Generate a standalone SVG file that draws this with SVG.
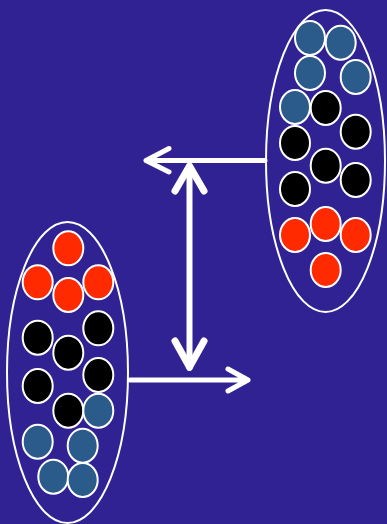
<svg xmlns="http://www.w3.org/2000/svg" width="387" height="524" viewBox="0 0 387 524">
<style>
.pool{fill:none;stroke:#fff;stroke-width:2}
.b{stroke:#fff;stroke-width:2}
.r{fill:#ff2a00}
.t{fill:#2a5b8b}
.k{fill:#000}
.ar{fill:none;stroke:#fff;stroke-linecap:round;stroke-linejoin:round}
</style>
<rect width="387" height="524" fill="#312293"/>
<g id="connectors">
<path class="ar" stroke-width="5" d="M265 160.5 H146 M169 148.5 L146 160.5 L169 172"/>
<path class="ar" stroke-width="6" d="M189.5 166 V368"/>
<path class="ar" stroke-width="7" d="M175 191 L189.5 166 L204 191 M175 341 L189.5 367 L204 341"/>
<path class="ar" stroke-width="5" d="M130 380 H248 M228 369 L248 380 L228 391"/>
</g>
<g id="right-pool">
<ellipse class="pool" cx="325.5" cy="161" rx="59.5" ry="151"/>
<g class="b">
<ellipse class="t" cx="310" cy="38" rx="15" ry="17"/>
<ellipse class="t" cx="340.7" cy="42.7" rx="15" ry="17"/>
<ellipse class="t" cx="310" cy="73" rx="15" ry="17"/>
<ellipse class="t" cx="355.7" cy="77" rx="15" ry="17"/>
<ellipse class="t" cx="295" cy="107" rx="15" ry="17"/>
<ellipse class="k" cx="325.7" cy="108" rx="15" ry="17"/>
<ellipse class="k" cx="355.7" cy="131.7" rx="15" ry="17"/>
<ellipse class="k" cx="295" cy="143" rx="15" ry="17"/>
<ellipse class="k" cx="325.7" cy="165.7" rx="15" ry="17"/>
<ellipse class="k" cx="355.7" cy="180" rx="15" ry="17"/>
<ellipse class="k" cx="295" cy="189" rx="15" ry="17"/>
<ellipse class="r" cx="295" cy="235" rx="15" ry="17"/>
<ellipse class="r" cx="325.7" cy="224" rx="15" ry="17"/>
<ellipse class="r" cx="355.7" cy="235" rx="15" ry="17"/>
<ellipse class="r" cx="325.7" cy="270" rx="15" ry="17"/>
</g>
</g>
<g id="left-pool">
<ellipse class="pool" cx="67.5" cy="372.5" rx="60.5" ry="150.5"/>
<g class="b">
<ellipse class="r" cx="68.3" cy="248.3" rx="15" ry="17"/>
<ellipse class="r" cx="37.7" cy="282.3" rx="15" ry="17"/>
<ellipse class="r" cx="98.3" cy="282.3" rx="15" ry="17"/>
<ellipse class="r" cx="68.3" cy="295" rx="15" ry="17"/>
<ellipse class="k" cx="37.7" cy="337.7" rx="15" ry="17"/>
<ellipse class="k" cx="98.3" cy="328.3" rx="15" ry="17"/>
<ellipse class="k" cx="68.3" cy="352.7" rx="15" ry="17"/>
<ellipse class="k" cx="98.3" cy="375" rx="15" ry="17"/>
<ellipse class="k" cx="37.7" cy="386" rx="15" ry="17"/>
<ellipse class="k" cx="68.3" cy="410.7" rx="15" ry="17"/>
<ellipse class="t" cx="98.3" cy="410.7" rx="15" ry="17"/>
<ellipse class="t" cx="37.7" cy="441.7" rx="15" ry="17"/>
<ellipse class="t" cx="82.7" cy="445.7" rx="15" ry="17"/>
<ellipse class="t" cx="53.3" cy="476.7" rx="15" ry="17"/>
<ellipse class="t" cx="82.7" cy="480" rx="15" ry="17"/>
</g>
</g>
</svg>
